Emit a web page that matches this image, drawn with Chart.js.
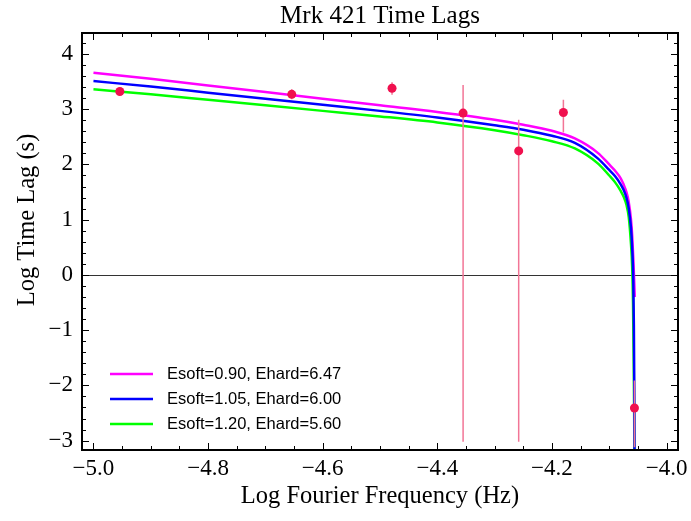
<!DOCTYPE html>
<html>
<head>
<meta charset="utf-8">
<script src="https://cdn.jsdelivr.net/npm/chart.js@4.4.0/dist/chart.umd.min.js"></script>
<style>
  html, body { margin: 0; padding: 0; background: #fff; }
  #wrap { width: 691px; height: 521px; }
</style>
</head>
<body>
<div id="wrap"><canvas id="lagChart" width="691" height="521"></canvas></div>
<script>
// measured lags: log10 Fourier frequency (Hz) vs log10 lag (s), with error bar ends
const obsFreq  = [-4.954, -4.654, -4.479, -4.355, -4.258, -4.180, -4.056];
const obsLag   = [3.32, 3.27, 3.38, 2.93, 2.245, 2.94, -2.41];
const obsLagHi = [3.39, 3.36, 3.49, 3.44, 2.81, 3.17, -1.91];
const obsLagLo = [3.25, 3.18, 3.26, -3.02, -3.02, 2.58, -3.12];

// model curves
const freqA = [-5.00, -4.90, -4.80, -4.70, -4.60, -4.50, -4.40, -4.30, -4.25, -4.20, -4.16, -4.12, -4.10, -4.09, -4.08, -4.075, -4.07, -4.066, -4.062, -4.060, -4.058, -4.0565, -4.0555];
const lagA  = [3.66, 3.55, 3.43, 3.31, 3.19, 3.07, 2.95, 2.81, 2.72, 2.61, 2.47, 2.21, 2.00, 1.89, 1.75, 1.64, 1.50, 1.32, 1.00, 0.72, 0.30, -0.10, -0.40];

const freqB = [-5.00, -4.90, -4.80, -4.70, -4.60, -4.50, -4.40, -4.30, -4.25, -4.20, -4.16, -4.12, -4.10, -4.09, -4.08, -4.075, -4.07, -4.066, -4.062, -4.060, -4.058, -4.057, -4.0563, -4.0558];
const lagB  = [3.51, 3.41, 3.30, 3.19, 3.08, 2.97, 2.85, 2.71, 2.63, 2.52, 2.39, 2.11, 1.90, 1.79, 1.64, 1.54, 1.40, 1.21, 0.85, 0.50, -0.10, -0.90, -2.00, -3.40];

const freqC = [-5.00, -4.90, -4.80, -4.70, -4.60, -4.50, -4.40, -4.30, -4.25, -4.20, -4.16, -4.12, -4.10, -4.09, -4.08, -4.075, -4.07, -4.066, -4.062, -4.060, -4.0585, -4.0575, -4.0565, -4.056];
const lagC  = [3.36, 3.27, 3.17, 3.07, 2.97, 2.87, 2.76, 2.62, 2.53, 2.42, 2.29, 2.02, 1.80, 1.68, 1.52, 1.42, 1.27, 1.05, 0.55, 0.15, -0.50, -1.40, -2.50, -3.40];

const curveLabels = ['Esoft=0.90, Ehard=6.47', 'Esoft=1.05, Ehard=6.00', 'Esoft=1.20, Ehard=5.60'];
const curveColors = ['#ff00ff', '#0000ff', '#00ff00'];

const xTicks = [-5.0, -4.8, -4.6, -4.4, -4.2, -4.0];
const xTickLabels = ['\u22125.0', '\u22124.8', '\u22124.6', '\u22124.4', '\u22124.2', '\u22124.0'];
const yTicks = [-3, -2, -1, 0, 1, 2, 3, 4];
const yTickLabels = ['\u22123', '\u22122', '\u22121', '0', '1', '2', '3', '4'];

const toXY = (xs, ys) => xs.map((x, i) => ({ x: x, y: ys[i] }));

const errData = [];
obsFreq.forEach((f, i) => {
    errData.push({ x: f, y: obsLagLo[i] }, { x: f, y: obsLagHi[i] }, { x: f, y: null });
});

const serif = "'Liberation Serif', 'Times New Roman', serif";

// frame, inward ticks, zero line, y title and legend
const framePlugin = {
    id: 'frame',
    beforeDatasetsDraw(chart) {
        const { ctx, chartArea: a, scales: { y } } = chart;
        const y0 = Math.round(y.getPixelForValue(0)) + 0.5;
        ctx.save();
        ctx.strokeStyle = '#333';
        ctx.lineWidth = 1;
        ctx.beginPath();
        ctx.moveTo(a.left, y0);
        ctx.lineTo(a.right, y0);
        ctx.stroke();
        ctx.restore();
    },
    afterDraw(chart) {
        const { ctx, chartArea: a, scales: { x, y } } = chart;
        ctx.save();
        ctx.strokeStyle = '#000';
        ctx.lineWidth = 1;
        ctx.beginPath();
        for (let v = -5.0; v <= -3.98; v += 0.05) {
            const major = Math.abs(v * 5 - Math.round(v * 5)) < 1e-6;
            const len = major ? 7 : 4;
            const px = Math.round(x.getPixelForValue(v)) + 0.5;
            ctx.moveTo(px, a.bottom); ctx.lineTo(px, a.bottom - len);
            ctx.moveTo(px, a.top); ctx.lineTo(px, a.top + len);
        }
        for (let v = -3.0; v <= 4.3; v += 0.2) {
            const major = Math.abs(v - Math.round(v)) < 1e-6;
            const len = major ? 7 : 4;
            const py = Math.round(y.getPixelForValue(v)) + 0.5;
            ctx.moveTo(a.left, py); ctx.lineTo(a.left + len, py);
            ctx.moveTo(a.right, py); ctx.lineTo(a.right - len, py);
        }
        ctx.stroke();
        ctx.lineWidth = 2;
        ctx.strokeRect(a.left, a.top, a.right - a.left, a.bottom - a.top);

        // y axis title, placed a little above centre as in the original
        ctx.fillStyle = '#000';
        ctx.font = "24.5px " + serif;
        ctx.textAlign = 'center';
        ctx.textBaseline = 'middle';
        ctx.translate(28, 220);
        ctx.rotate(-Math.PI / 2);
        ctx.fillText('Log Time Lag (s)', 0, 0);
        ctx.setTransform(1, 0, 0, 1, 0, 0);

        // legend inside the plot, lower left
        ctx.font = "16.5px 'Liberation Sans', Arial, sans-serif";
        ctx.textAlign = 'left';
        ctx.textBaseline = 'middle';
        curveLabels.forEach((lab, i) => {
            const ly = a.bottom - 76 + i * 25;
            ctx.strokeStyle = curveColors[i];
            ctx.lineWidth = 2.5;
            ctx.beginPath();
            ctx.moveTo(a.left + 28, ly);
            ctx.lineTo(a.left + 71, ly);
            ctx.stroke();
            ctx.fillText(lab, a.left + 85, ly);
        });
        ctx.restore();
    }
};

const curveStyle = { showLine: true, borderWidth: 2.5, pointRadius: 0, cubicInterpolationMode: 'monotone' };

new Chart(document.getElementById('lagChart'), {
    type: 'scatter',
    data: {
        datasets: [
            {
                label: 'data',
                data: toXY(obsFreq, obsLag),
                backgroundColor: '#f0104e',
                borderWidth: 0,
                pointRadius: 4.5,
                order: 0
            },
            {
                label: 'errors',
                data: errData,
                showLine: true,
                spanGaps: false,
                borderColor: '#f27596',
                borderWidth: 1.5,
                pointRadius: 0,
                order: 1
            },
            Object.assign({ label: curveLabels[1], data: toXY(freqB, lagB), borderColor: curveColors[1], order: 2 }, curveStyle),
            Object.assign({ label: curveLabels[2], data: toXY(freqC, lagC), borderColor: curveColors[2], order: 3 }, curveStyle),
            Object.assign({ label: curveLabels[0], data: toXY(freqA, lagA), borderColor: curveColors[0], order: 4 }, curveStyle)
        ]
    },
    options: {
        responsive: false,
        animation: false,
        layout: { padding: { left: 0, right: 13, top: 0, bottom: 0 } },
        plugins: {
            legend: { display: false },
            tooltip: { enabled: false },
            title: {
                display: true,
                fullSize: false,
                text: 'Mrk 421 Time Lags',
                color: '#000',
                font: { family: serif, size: 25, weight: 'normal' },
                padding: { top: 1.5, bottom: 1.5 }
            }
        },
        scales: {
            x: {
                type: 'linear',
                min: -5.02,
                max: -3.98,
                grid: { display: false, drawTicks: false },
                border: { display: false },
                afterBuildTicks: s => { s.ticks = xTicks.map(v => ({ value: v })); },
                afterFit: s => { s.height = 71; s.paddingLeft = 0; s.paddingRight = 0; },
                ticks: {
                    padding: 5,
                    color: '#000',
                    font: { family: serif, size: 23 },
                    maxRotation: 0,
                    callback: (v, i) => xTickLabels[i]
                },
                title: {
                    display: true,
                    text: 'Log Fourier Frequency (Hz)',
                    color: '#000',
                    font: { family: serif, size: 24.5 },
                    padding: { top: 0, bottom: 9.5 }
                }
            },
            y: {
                type: 'linear',
                min: -3.17,
                max: 4.38,
                grid: { display: false, drawTicks: false },
                border: { display: false },
                afterBuildTicks: s => { s.ticks = yTicks.map(v => ({ value: v })); },
                afterFit: s => { s.width = 82; s.paddingTop = 0; s.paddingBottom = 0; },
                ticks: {
                    padding: 9,
                    color: '#000',
                    font: { family: serif, size: 23 },
                    callback: (v, i) => yTickLabels[i]
                },
                title: { display: false }
            }
        }
    },
    plugins: [framePlugin]
});
</script>
</body>
</html>
